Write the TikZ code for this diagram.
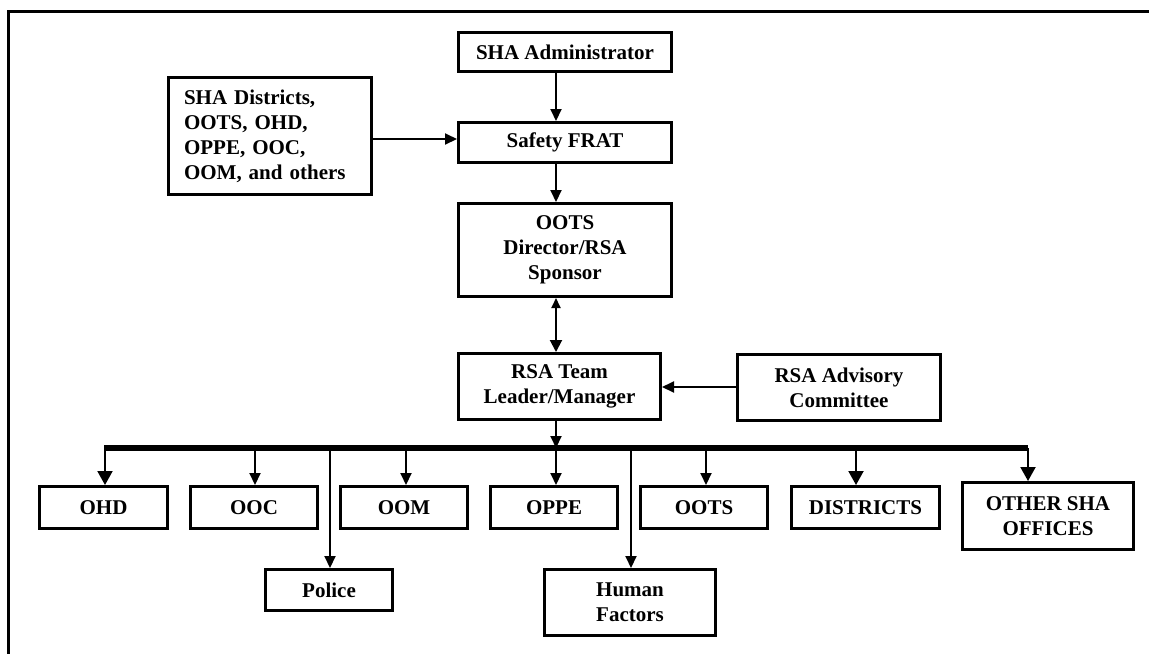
\documentclass[tikz,border=0pt]{standalone}
\usepackage{fontspec}
\setmainfont{Liberation Serif}
\usetikzlibrary{arrows.meta}
\begin{document}
\begin{tikzpicture}[x=1pt,y=-1pt,
  box/.style={draw, line width=3pt, inner sep=0pt, align=center,
    font=\bfseries\fontsize{21}{25}\selectfont},
  conn/.style={line width=2pt},
  sarr/.style={conn, -{Triangle[length=12pt,width=11pt]}},
  barr/.style={conn, -{Triangle[length=14pt,width=15pt]}},
  bus/.style={line width=6pt},
  frame/.style={line width=3pt}
]
\useasboundingbox (0,0) rectangle (1149,654);
% frame
\coordinate (fTR) at (1149,11);
\coordinate (fTL) at (8,11);
\coordinate (fBL) at (8,654);
\draw[frame] (fTR) -- (fTL) -- (fBL);

% upper chain
\node[box, minimum width=213, minimum height=39] (admin) at (565,52) {SHA Administrator};
\node[box, minimum width=213, minimum height=40] (frat) at (565,142.5) {Safety FRAT};
\node[box, minimum width=213, minimum height=93] (oots) at (565,250) {OOTS\\Director/RSA\\Sponsor};
\node[box, minimum width=202, minimum height=66] (rsa) at (559.5,386.5) {RSA Team\\Leader/Manager};
\node[box, minimum width=203, minimum height=66] (adv) at (839,387.5) {RSA Advisory\\Committee};
\node[box, minimum width=203, minimum height=117, text width=172pt, align=left] (src) at (270,136)
  {SHA Districts,\\OOTS, OHD,\\OPPE, OOC,\\OOM, and others};

% bottom row
\node[box, minimum width=128, minimum height=42] (ohd) at (103.5,507.5) {OHD};
\node[box, minimum width=127, minimum height=42] (ooc) at (254,507.5) {OOC};
\node[box, minimum width=127, minimum height=42] (oom) at (404,507.5) {OOM};
\node[box, minimum width=127, minimum height=42] (oppe) at (554,507.5) {OPPE};
\node[box, minimum width=127, minimum height=42] (ootsb) at (704,507.5) {OOTS};
\node[box, minimum width=148, minimum height=42] (dist) at (865.5,507.5) {DISTRICTS};
\node[box, minimum width=171, minimum height=67] (other) at (1048,516) {OTHER SHA\\OFFICES};
\node[box, minimum width=127, minimum height=41] (police) at (329,590) {Police};
\node[box, minimum width=171, minimum height=66] (human) at (630,602.5) {Human\\Factors};

% vertical spine
\coordinate (sp) at (556,0);
\draw[sarr] (sp |- admin.south) -- (sp |- frat.north);
\draw[sarr] (sp |- frat.south) -- (sp |- oots.north);
\draw[conn, {Triangle[length=10pt,width=9pt]}-{Triangle[length=12pt,width=12pt]}] (sp |- oots.south) -- (sp |- rsa.north);

% side inputs
\draw[sarr] (src.east |- 0,139) -- (frat.west |- 0,139);
\draw[sarr] (adv.west |- 0,387) -- (rsa.east |- 0,387);

% bus
\coordinate (busL) at (104,448);
\coordinate (busR) at (1028,448);
\coordinate (busC) at (556,448);
\draw[sarr] (sp |- rsa.south) -- (busC);
\draw[bus] (busL) -- (busR);

% drops
\coordinate (dOHD) at (105,448);
\coordinate (dOOC) at (255,448);
\coordinate (dPol) at (330,448);
\coordinate (dOOM) at (406,448);
\coordinate (dOPPE) at (556,448);
\coordinate (dHum) at (631,448);
\coordinate (dOOTS) at (706,448);
\coordinate (dDist) at (856,448);
\coordinate (dOther) at (1028,448);
\draw[barr] (dOHD) -- (dOHD |- ohd.north);
\draw[sarr] (dOOC) -- (dOOC |- ooc.north);
\draw[sarr] (dPol) -- (dPol |- police.north);
\draw[sarr] (dOOM) -- (dOOM |- oom.north);
\draw[sarr] (dOPPE) -- (dOPPE |- oppe.north);
\draw[sarr] (dHum) -- (dHum |- human.north);
\draw[sarr] (dOOTS) -- (dOOTS |- ootsb.north);
\draw[barr] (dDist) -- (dDist |- dist.north);
\draw[barr] (dOther) -- (dOther |- other.north);
\end{tikzpicture}
\end{document}
